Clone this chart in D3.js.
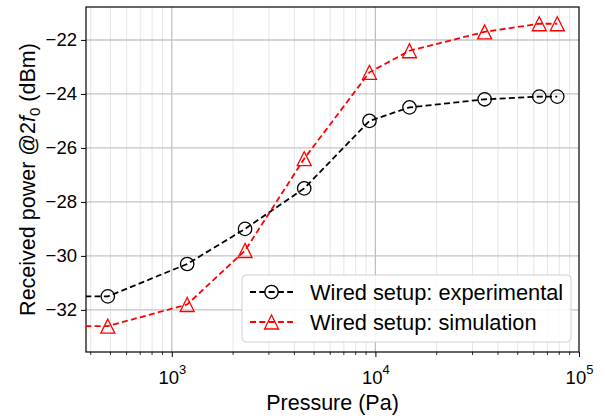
<!DOCTYPE html>
<html lang="en">
<head>
<meta charset="utf-8">
<style>
  body { margin: 0; background: #fff; }
  text { font-family: Arial, "Liberation Sans", sans-serif; }
</style>
</head>
<body>
<script src="https://d3js.org/d3.v7.min.js"></script>
<script>
// data (first point lies left of the axis, so it is clipped)
const pressure = [200, 485, 1190, 2290, 4470, 9350, 14700, 34400, 63800, 78200];
const experimental = [-31.5, -31.5, -30.3, -29.0, -27.5, -25.0, -24.5, -24.2, -24.1, -24.1];
const simulation = [-32.6, -32.6, -31.8, -29.8, -26.4, -23.2, -22.4, -21.7, -21.4, -21.4];
const yTicks = [-32, -30, -28, -26, -24, -22];
const xTicks = [1e3, 1e4, 1e5];
const seriesNames = ["Wired setup: experimental", "Wired setup: simulation"];

const width = 605, height = 418;
const pLeft = 86, pTop = 7, pRight = 579, pBottom = 352;

const svg = d3.select("body").append("svg")
    .attr("width", width)
    .attr("height", height);

const x = d3.scaleLog().domain([379, 1e5]).range([pLeft, pRight]);
const y = d3.scaleLinear().domain([-33.56, -20.78]).range([pBottom, pTop]);

svg.append("clipPath").attr("id", "clip")
  .append("rect")
    .attr("x", pLeft).attr("y", pTop)
    .attr("width", pRight - pLeft).attr("height", pBottom - pTop);

// minor x grid
var minor = [];
[100, 1000, 10000].forEach(function (b) {
    for (var k = 2; k <= 9; k++) {
        var v = b * k;
        if (v > 379 && v < 1e5) minor.push(v);
    }
});
svg.append("g").selectAll("line").data(minor).enter().append("line")
    .attr("x1", d => x(d)).attr("x2", d => x(d))
    .attr("y1", pTop).attr("y2", pBottom)
    .attr("stroke", "#e6e6e6").attr("stroke-width", 1);

// major grid
svg.append("g").selectAll("line").data(xTicks.slice(0, 2)).enter().append("line")
    .attr("x1", d => x(d)).attr("x2", d => x(d))
    .attr("y1", pTop).attr("y2", pBottom)
    .attr("stroke", "#bdbdbd").attr("stroke-width", 1.2);
svg.append("g").selectAll("line").data(yTicks).enter().append("line")
    .attr("x1", pLeft).attr("x2", pRight)
    .attr("y1", d => y(d)).attr("y2", d => y(d))
    .attr("stroke", "#c4c4c4").attr("stroke-width", 1.4);

// axes
const yAxis = d3.axisLeft(y).tickValues(yTicks)
    .tickFormat(d => d3.format("d")(d).replace("-", "\u2212"))
    .tickSize(5).tickPadding(4);
const gy = svg.append("g").attr("transform", "translate(" + pLeft + ",0)").call(yAxis);
gy.select(".domain").remove();
gy.selectAll("text").style("font-size", "18.5px").attr("fill", "#000");

const xAxis = d3.axisBottom(x).tickValues(xTicks).tickFormat("").tickSize(5);
const gx = svg.append("g").attr("transform", "translate(0," + pBottom + ")").call(xAxis);
gx.select(".domain").remove();
gx.selectAll(".tick").each(function (d) {
    var t = d3.select(this).append("text")
        .attr("y", 32).attr("fill", "#000")
        .attr("text-anchor", "middle")
        .style("font-size", "18.5px");
    t.append("tspan").text("10");
    t.append("tspan").attr("dy", -10).style("font-size", "13px").text(Math.round(Math.log10(d)));
});
svg.append("g").selectAll("line").data(minor).enter().append("line")
    .attr("x1", d => x(d)).attr("x2", d => x(d))
    .attr("y1", pBottom).attr("y2", pBottom + 3)
    .attr("stroke", "#000").attr("stroke-width", 0.8);

// frame
svg.append("rect")
    .attr("x", pLeft).attr("y", pTop)
    .attr("width", pRight - pLeft).attr("height", pBottom - pTop)
    .attr("fill", "none").attr("stroke", "#000").attr("stroke-width", 1.2);

// axis labels
svg.append("text")
    .attr("x", (pLeft + pRight) / 2).attr("y", 410)
    .attr("text-anchor", "middle")
    .style("font-size", "21.5px")
    .text("Pressure (Pa)");

const yl = svg.append("text")
    .attr("transform", "translate(35," + ((pTop + pBottom) / 2) + ") rotate(-90)")
    .attr("text-anchor", "middle")
    .style("font-size", "21.5px");
yl.append("tspan").text("Received power @2");
yl.append("tspan").style("font-style", "italic").text("f");
yl.append("tspan").attr("dy", 5).style("font-size", "15px").text("0");
yl.append("tspan").attr("dy", -5).text(" (dBm)");

// series
function circle(g, px, py, color) {
    g.append("circle").attr("cx", px).attr("cy", py).attr("r", 6.7)
        .attr("fill", "none").attr("stroke", color).attr("stroke-width", 1.3);
}
function triangle(g, px, py, color) {
    var s = 7;
    g.append("path")
        .attr("d", "M" + px + "," + (py - s) + "L" + (px - s) + "," + (py + s) + "L" + (px + s) + "," + (py + s) + "Z")
        .attr("fill", "none").attr("stroke", color).attr("stroke-width", 1.3);
}

const series = [
    { values: experimental, color: "#000000", marker: circle },
    { values: simulation, color: "#ff0000", marker: triangle }
];

const plot = svg.append("g").attr("clip-path", "url(#clip)");
const line = d3.line().x(d => x(d[0])).y(d => y(d[1]));

series.forEach(function (s) {
    var pts = pressure.map((p, i) => [p, s.values[i]]);
    plot.append("path")
        .attr("d", line(pts))
        .attr("fill", "none")
        .attr("stroke", s.color)
        .attr("stroke-width", 1.8)
        .attr("stroke-dasharray", "6,3.3");
    pts.forEach(function (p) { s.marker(plot, x(p[0]), y(p[1]), s.color); });
});

// legend
const lg = svg.append("g");
lg.append("rect")
    .attr("x", 242).attr("y", 275)
    .attr("width", 329).attr("height", 67)
    .attr("rx", 4)
    .attr("fill", "#fff").attr("fill-opacity", 0.85)
    .attr("stroke", "#d0d0d0").attr("stroke-width", 1);
series.forEach(function (s, i) {
    var ly = 292 + i * 30;
    lg.append("line")
        .attr("x1", 250).attr("x2", 293)
        .attr("y1", ly).attr("y2", ly)
        .attr("stroke", s.color).attr("stroke-width", 1.8)
        .attr("stroke-dasharray", "6,3.3");
    s.marker(lg, 271.5, ly, s.color);
    lg.append("text")
        .attr("x", 310).attr("y", ly + 7.5)
        .style("font-size", "21.8px")
        .text(seriesNames[i]);
});
</script>
</body>
</html>
